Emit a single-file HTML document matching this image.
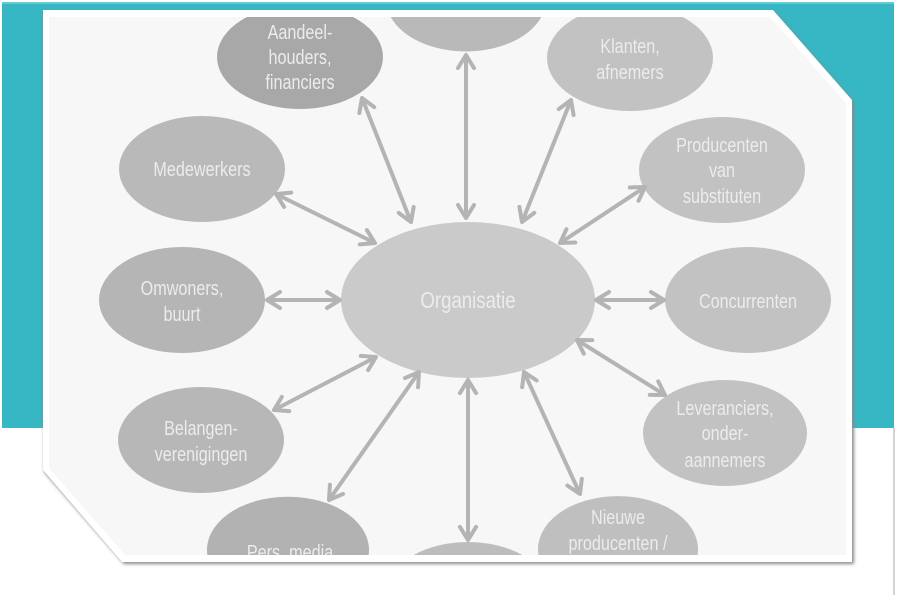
<!DOCTYPE html>
<html><head><meta charset="utf-8"><style>
html,body{margin:0;padding:0;background:#fff;width:900px;height:600px;overflow:hidden}
svg{display:block}
text{font-family:"Liberation Sans",Arial,sans-serif;font-size:20px;fill:#ececec;text-anchor:middle}
</style></head><body>
<svg width="900" height="600" viewBox="0 0 900 600" xmlns="http://www.w3.org/2000/svg">
<defs>
<clipPath id="inner"><polygon points="49,17 770,17 846,103 846,555 125,555 49,468"/></clipPath>
<filter id="sh" x="-5%" y="-5%" width="110%" height="110%"><feGaussianBlur stdDeviation="1.5"/></filter>
<marker id="ah" markerUnits="userSpaceOnUse" viewBox="-2 -2 20 22" refX="14" refY="9" markerWidth="20" markerHeight="22" orient="auto-start-reverse">
<path d="M1,1 L14,9 L1,17" fill="none" stroke="#b4b4b4" stroke-width="4" stroke-linecap="round" stroke-linejoin="round"/>
</marker>
</defs>
<!-- teal background -->
<rect x="2" y="2" width="892" height="426" fill="#36b7c3"/>
<rect x="2" y="2" width="892" height="2" fill="#62c9d3"/>
<rect x="893" y="428" width="2" height="167" fill="#d4d4d4"/>
<!-- panel -->
<polygon points="44,12 775,12 854,102 854,564 124,564 44,472" fill="#8a8a8a" filter="url(#sh)"/>
<polygon points="43,10 773,10 852,100 852,562 122,562 43,470" fill="#ffffff"/>
<polygon points="49,17 770,17 846,103 846,555 125,555 49,468" fill="#f7f7f7"/>
<g clip-path="url(#inner)">
<!-- ellipses -->
<path d="M390.7,17 A80,52 0 0 0 541.3,17 Z" fill="#b9b9b9"/>
<ellipse cx="300" cy="57" rx="83" ry="52" fill="#a8a8a8"/>
<ellipse cx="630" cy="58" rx="83" ry="53" fill="#c2c2c2"/>
<ellipse cx="202" cy="169" rx="83" ry="53" fill="#b9b9b9"/>
<ellipse cx="722" cy="170" rx="83" ry="53" fill="#c2c2c2"/>
<ellipse cx="182" cy="300" rx="83" ry="53" fill="#b5b5b5"/>
<ellipse cx="748" cy="300" rx="83" ry="53" fill="#c2c2c2"/>
<ellipse cx="201" cy="440" rx="83" ry="53" fill="#b7b7b7"/>
<ellipse cx="725" cy="433" rx="82" ry="53" fill="#c2c2c2"/>
<path d="M207.4,555 A81,53 0 1 1 368.6,555 Z" fill="#b2b2b2"/>
<path d="M413.5,555 A83,53 0 0 1 522.5,555 Z" fill="#bdbdbd"/>
<path d="M538.5,555 A80,53 0 1 1 697.5,555 Z" fill="#bfbfbf"/>
<ellipse cx="468" cy="300" rx="127" ry="78" fill="#cacaca"/>
<!-- arrows -->
<g stroke="#b4b4b4" stroke-width="4" fill="none" marker-start="url(#ah)" marker-end="url(#ah)">
<line x1="466" y1="55" x2="466" y2="218"/>
<line x1="362" y1="98" x2="411" y2="222"/>
<line x1="571" y1="100" x2="522" y2="222"/>
<line x1="276" y1="194" x2="375" y2="243"/>
<line x1="645" y1="187" x2="560" y2="243"/>
<line x1="267" y1="300" x2="340" y2="300"/>
<line x1="596" y1="300" x2="664" y2="300"/>
<line x1="274" y1="410" x2="376" y2="357"/>
<line x1="577" y1="340" x2="665" y2="395"/>
<line x1="329" y1="500" x2="419" y2="372"/>
<line x1="468" y1="380" x2="468" y2="540"/>
<line x1="524" y1="372" x2="580" y2="494"/>
</g>
<!-- labels -->
<text transform="translate(300,39) scale(0.81,1)">Aandeel-</text>
<text transform="translate(300,64) scale(0.81,1)">houders,</text>
<text transform="translate(300,89) scale(0.81,1)">financiers</text>
<text transform="translate(630,53) scale(0.81,1)">Klanten,</text>
<text transform="translate(630,79) scale(0.81,1)">afnemers</text>
<text transform="translate(202,176) scale(0.81,1)">Medewerkers</text>
<text transform="translate(722,152) scale(0.81,1)">Producenten</text>
<text transform="translate(722,177) scale(0.81,1)">van</text>
<text transform="translate(722,203) scale(0.81,1)">substituten</text>
<text transform="translate(182,295) scale(0.81,1)">Omwoners,</text>
<text transform="translate(182,321) scale(0.81,1)">buurt</text>
<text transform="translate(748,308) scale(0.81,1)">Concurrenten</text>
<text transform="translate(468,308) scale(0.81,1)" style="font-size:23px">Organisatie</text>
<text transform="translate(201,435) scale(0.81,1)">Belangen-</text>
<text transform="translate(201,461) scale(0.81,1)">verenigingen</text>
<text transform="translate(725,415) scale(0.81,1)">Leveranciers,</text>
<text transform="translate(725,440) scale(0.81,1)">onder-</text>
<text transform="translate(725,467) scale(0.81,1)">aannemers</text>
<text transform="translate(290,559) scale(0.81,1)">Pers, media</text>
<text transform="translate(618,524) scale(0.81,1)">Nieuwe</text>
<text transform="translate(618,550) scale(0.81,1)">producenten /</text>
</g>
</svg>
</body></html>
